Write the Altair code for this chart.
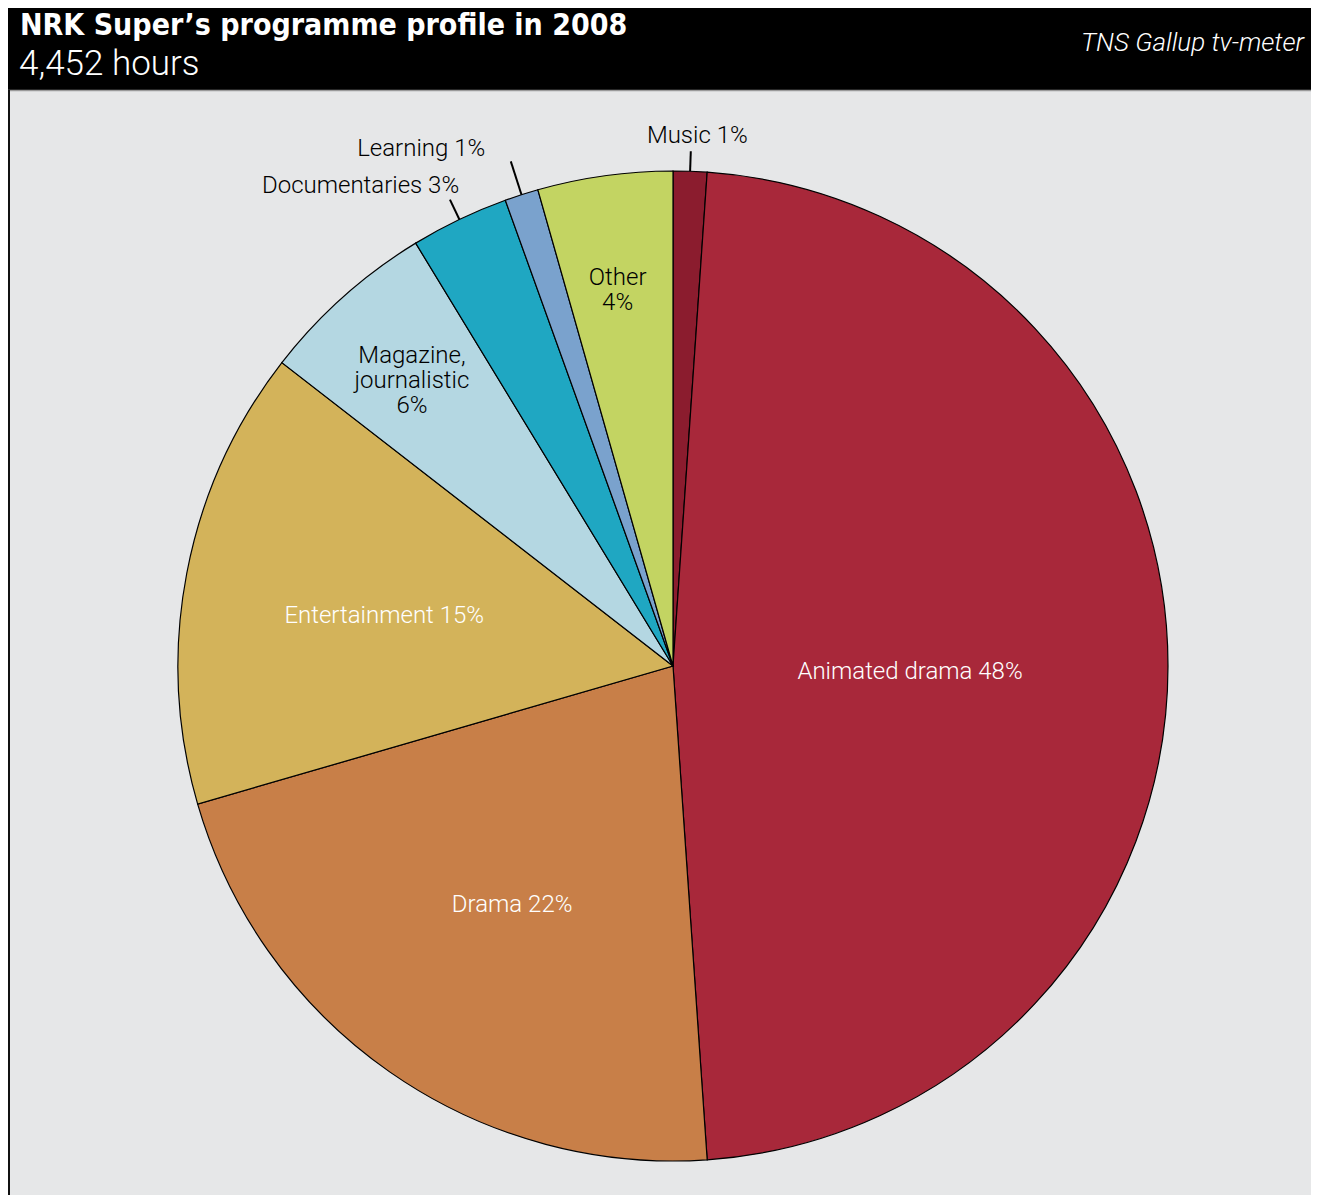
import altair as alt
import pandas as pd
import numpy as np

# ---------------- data ----------------
categories = ["Music", "Animated drama", "Drama", "Entertainment",
              "Magazine, journalistic", "Documentaries", "Learning", "Other"]
shares = [1.1, 47.8, 21.6, 15.0, 5.8, 3.2, 1.1, 4.4]
label_texts = ["Music 1%", "Animated drama 48%", "Drama 22%", "Entertainment 15%",
               "Magazine,\njournalistic\n6%", "Documentaries 3%", "Learning 1%", "Other\n4%"]
colors = ["#8B1C2E", "#A8283A", "#C87F48", "#D3B35A",
          "#B4D7E2", "#1FA7C2", "#7AA2CD", "#C3D462"]

title_text = "NRK Super\u2019s programme profile in 2008"
subtitle_text = "4,452 hours"
source_text = "TNS Gallup tv-meter"

# ---------------- layout ----------------
W, H = 1303, 1187
CX, CY, R = 665, 658, 495
HEADER = 82

# label styling (radius from centre, colour, alignment, offsets)
lab_r = [530, 237, 288, 294, 386, 535, 545, 380]
lab_col = ["black", "white", "white", "white", "black", "black", "black", "black"]
lab_align = ["center", "center", "center", "center", "center", "right", "right", "center"]
lab_dx = [6, 0, 4, 0, -4, 17, -21, -3]
lab_dy = [0, 6, 3, 5, -22, 3, 2, -12]
leader_end = {"Music": 515, "Documentaries": 517, "Learning": 530}

df = pd.DataFrame({"category": categories, "share": shares,
                   "order": list(range(len(categories)))})

vals = np.array(shares, dtype=float)
cum = np.cumsum(vals)
mid = (cum - vals / 2) / vals.sum() * 2 * np.pi

lab = pd.DataFrame({
    "text": label_texts,
    "x": CX + np.array(lab_r) * np.sin(mid) + np.array(lab_dx),
    "y": CY - np.array(lab_r) * np.cos(mid) + np.array(lab_dy),
    "col": lab_col,
    "align": lab_align,
})

lines = []
for i, c in enumerate(categories):
    if c in leader_end:
        r2 = leader_end[c]
        lines.append({"x": CX + R * np.sin(mid[i]), "y": CY - R * np.cos(mid[i]),
                      "x2": CX + r2 * np.sin(mid[i]), "y2": CY - r2 * np.cos(mid[i])})
lines = pd.DataFrame(lines)

one = pd.DataFrame({"a": [0]})

# ---------------- marks ----------------
header = alt.Chart(one).mark_rect(color="black").encode(
    x=alt.value(-10), x2=alt.value(W + 10), y=alt.value(-10), y2=alt.value(HEADER))
header_line = alt.Chart(one).mark_rule(color="#9a9a9a", strokeWidth=1.5).encode(
    x=alt.value(0), x2=alt.value(W), y=alt.value(HEADER + 0.5))
left_border = alt.Chart(one).mark_rule(color="#111111", strokeWidth=4).encode(
    x=alt.value(0), y=alt.value(HEADER), y2=alt.value(H))

title = alt.Chart(one).mark_text(
    text=title_text, font="DejaVu Sans Condensed", fontWeight="bold", fontSize=30,
    color="white", align="left", baseline="alphabetic").encode(
    x=alt.value(12), y=alt.value(27))
subtitle = alt.Chart(one).mark_text(
    text=subtitle_text, font="Roboto", fontWeight=300, fontSize=35,
    color="white", align="left", baseline="alphabetic").encode(
    x=alt.value(11), y=alt.value(67))
source = alt.Chart(one).mark_text(
    text=source_text, font="Roboto", fontWeight=300, fontStyle="italic", fontSize=26,
    color="white", align="left", baseline="alphabetic").encode(
    x=alt.value(1073), y=alt.value(43))

pie = alt.Chart(df).mark_arc(stroke="black", strokeWidth=1.2, outerRadius=R).encode(
    theta=alt.Theta("share:Q", stack=True),
    color=alt.Color("category:N", scale=alt.Scale(domain=categories, range=colors), legend=None),
    order=alt.Order("order:Q"),
    x=alt.value(CX), y=alt.value(CY),
)

leaders = alt.Chart(lines).mark_rule(color="black", strokeWidth=2).encode(
    x=alt.X("x:Q", scale=None, axis=None), y=alt.Y("y:Q", scale=None, axis=None),
    x2="x2:Q", y2="y2:Q")

labels_base = alt.Chart(lab)
label_layers = []
for al in ["center", "right"]:
    label_layers.append(
        labels_base.transform_filter(alt.datum.align == al).mark_text(
            font="Roboto", fontWeight=300, fontSize=24, align=al, baseline="middle",
            lineBreak="\n", lineHeight=25).encode(
            x=alt.X("x:Q", scale=None, axis=None), y=alt.Y("y:Q", scale=None, axis=None),
            text="text:N",
            color=alt.Color("col:N", scale=None))
    )

chart = alt.layer(header, header_line, left_border, title, subtitle, source,
                  pie, leaders, *label_layers).properties(
    width=W, height=H, padding=0, autosize="none", background="#E6E7E8"
).configure_view(stroke=None)

chart.save("out.html", embed_options={"renderer": "svg", "actions": False})
